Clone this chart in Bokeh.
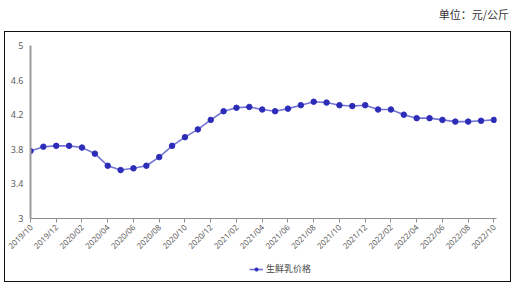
import math
from bokeh.plotting import figure
from bokeh.models import (ColumnDataSource, FixedTicker, Legend, LegendItem, Range1d, Div)
from bokeh.layouts import column
from bokeh.embed import file_html
from bokeh.resources import INLINE

months = ["2019/10", "2019/11", "2019/12", "2020/01", "2020/02", "2020/03", "2020/04",
          "2020/05", "2020/06", "2020/07", "2020/08", "2020/09", "2020/10", "2020/11",
          "2020/12", "2021/01", "2021/02", "2021/03", "2021/04", "2021/05", "2021/06",
          "2021/07", "2021/08", "2021/09", "2021/10", "2021/11", "2021/12", "2022/01",
          "2022/02", "2022/03", "2022/04", "2022/05", "2022/06", "2022/07", "2022/08",
          "2022/09", "2022/10"]
prices = [3.78, 3.83, 3.84, 3.84, 3.82, 3.75, 3.61, 3.56, 3.58, 3.61, 3.71, 3.84,
          3.94, 4.03, 4.14, 4.24, 4.28, 4.29, 4.26, 4.24, 4.27, 4.31, 4.35, 4.34,
          4.31, 4.30, 4.31, 4.26, 4.26, 4.20, 4.16, 4.16, 4.14, 4.12, 4.12, 4.13, 4.14]
y_ticks = [3, 3.4, 3.8, 4.2, 4.6, 5]
series_name = "生鲜乳价格"
unit_label = "单位：元/公斤"

LINE_COLOR = "#7474d6"
DOT_COLOR = "#2c2cb8"

idx = list(range(len(months)))
src = ColumnDataSource(dict(x=idx, y=prices, m=months))

p = figure(width=505, height=227, output_backend="svg", toolbar_location=None,
           x_range=Range1d(0, 36.2), y_range=Range1d(3, 5),
           min_border_left=25, min_border_right=14, min_border_top=13, min_border_bottom=41)
p.outline_line_color = None
p.grid.visible = False

p.line("x", "y", source=src, line_color=LINE_COLOR, line_width=1.6)
p.scatter("x", "y", source=src, size=5.5, fill_color=DOT_COLOR, line_color=DOT_COLOR)

xt = idx[::2]
p.xaxis.ticker = FixedTicker(ticks=xt)
p.xaxis.major_label_overrides = {i: months[i] for i in xt}
p.xaxis.major_label_orientation = math.pi / 4
p.xaxis.major_label_text_font_size = "8px"
p.xaxis.major_label_text_color = "#5e5e5e"
p.xaxis.major_label_text_font = "Noto Sans"
p.xaxis.axis_line_color = "#8c8c8c"
p.xaxis.major_tick_line_color = "#8c8c8c"
p.xaxis.major_tick_in = 0
p.xaxis.major_tick_out = 4
p.xaxis.minor_tick_line_color = None
p.xaxis.major_label_standoff = 3

p.yaxis.ticker = FixedTicker(ticks=y_ticks)
p.yaxis.major_label_overrides = {t: (str(int(t)) if t == int(t) else str(t)) for t in y_ticks}
p.yaxis.major_label_text_font_size = "9px"
p.yaxis.major_label_text_color = "#5e5e5e"
p.yaxis.major_label_text_font = "Noto Sans"
p.yaxis.axis_line_color = "#9a9a9a"
p.yaxis.axis_line_width = 2
p.yaxis.major_tick_line_color = None
p.yaxis.major_tick_in = 0
p.yaxis.major_tick_out = 0
p.yaxis.minor_tick_line_color = None
p.yaxis.minor_tick_in = 0
p.yaxis.minor_tick_out = 0
p.yaxis.major_label_standoff = 7

# legend in its own small figure (series drawn outside its visible range)
lf = figure(width=505, height=22, output_backend="svg", toolbar_location=None,
            min_border=0, x_range=Range1d(0, 1), y_range=Range1d(0, 1))
lf.axis.visible = False
lf.grid.visible = False
lf.outline_line_color = None
lr = lf.line("x", "y", source=src, line_color=LINE_COLOR, line_width=1.6)
mr = lf.scatter("x", "y", source=src, size=5.5, fill_color=DOT_COLOR, line_color=DOT_COLOR)
legend = Legend(items=[LegendItem(label=series_name, renderers=[lr, mr])],
                location=(219, 6), orientation="horizontal",
                label_text_font_size="9px", label_text_color="#444444",
                label_text_font="Noto Sans CJK SC", label_standoff=3,
                glyph_width=14, glyph_height=8, padding=0, margin=0,
                border_line_color=None, background_fill_alpha=0)
lf.add_layout(legend)

title = Div(text=('<div style="width:505px;text-align:right;font-family:\'Noto Sans CJK SC\';'
                  'font-size:11px;color:#333;line-height:14px;padding-top:7px">'
                  + unit_label + '</div>'),
            width=505, height=31, margin=(0, 0, 0, 4))

box = column(p, lf, spacing=0, margin=(0, 0, 0, 4),
             styles={"border": "1px solid #111111"})
layout = column(title, box, spacing=0, margin=0)

open("out.html", "w").write(file_html(layout, INLINE))
